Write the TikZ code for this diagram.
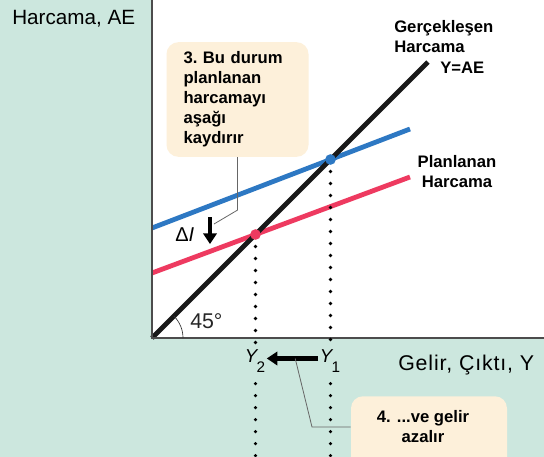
\documentclass[tikz,border=0pt]{standalone}
\usepackage{fontspec}
\setmainfont{Liberation Sans}
\usetikzlibrary{arrows.meta,calc}
\definecolor{aeMint}{HTML}{CCE7DE}
\definecolor{aeCream}{HTML}{FDF0DA}
\definecolor{aeBlue}{HTML}{2D78C3}
\definecolor{aeRed}{HTML}{EE3A60}
\newcommand\aeBig{\fontsize{15.5}{18}\selectfont}
\newcommand\aeMid{\fontsize{14}{16}\selectfont}
\newcommand\aeSub{\fontsize{11.5}{12}\selectfont}
\tikzset{
  aeLabel/.style={inner sep=0pt},
  aeText/.style={inner sep=0pt,font=\fontsize{12.5}{15}\selectfont\bfseries},
  aeNote/.style={rounded corners=9pt,fill=aeCream,draw=none},
  aeCurve/.style={line width=3.6pt},
  aeAxis/.style={draw=black!70,line width=.9pt},
  aeDots/.style={line width=2.7pt,line cap=round,dash pattern=on 0pt off 9pt},
  aeLead/.style={draw=black!60,line width=.6pt},
  aeArrow/.style={line width=3.2pt,-{Triangle[length=8pt,width=10pt]}},
}
\begin{document}
\begin{tikzpicture}[x=.75pt,y=-.75pt]
\clip (0,0) rectangle (544,457);
\fill[aeMint] (0,0) rectangle (544,457);
\fill[white] (152,0) rectangle (544,338);
% lines of the diagram
\coordinate (o) at (152,338);
\coordinate (e1) at (330.5,159.5);
\coordinate (e2) at (255.5,234.5);
\draw[aeCurve,aeRed] (152,273) -- (410,177);
\draw[aeCurve,aeBlue] (152,228) -- (410,129);
\draw[aeCurve,black!90] (o) -- (428,62);
\draw[aeAxis] (152,0) -- (o) -- (544,338);
\draw[black!80,line width=.5pt] ($(o)+(31,0)$) arc[start angle=0,end angle=45,radius=23.25pt];
\node[aeLabel,font=\fontsize{16}{18}\selectfont,text=black!85,anchor=base west] (ang) at (190,328) {45°};
% axis labels
\node[aeLabel,font=\aeBig,anchor=base west] (ylab) at (12,24) {Harcama, AE};
\node[aeLabel,font=\fontsize{16}{18}\selectfont,anchor=base west] (xlab) at (398,370) {\addfontfeature{LetterSpace=4}Gelir, Çıktı, Y};
\node[aeText,align=left,anchor=north west] (actual) at (394,20) {Gerçekleşen\\Harcama};
\node[aeText,anchor=west] (yae) at (440,68) {Y=AE};
\node[aeText,align=center] (planned) at (457,172) {Planlanan\\Harcama};
% income levels
\node[aeLabel,font=\aeMid,anchor=base] (y1) at (330,362) {\itshape Y\kern-.5pt\raisebox{-8pt}{\upshape\aeSub 1}};
\node[aeLabel,font=\aeMid,anchor=base] (y2) at (255,362) {\itshape Y\kern-.5pt\raisebox{-8pt}{\upshape\aeSub 2}};
\coordinate (b1) at (330.5,460);
\coordinate (b2) at (255.5,460);
\draw[aeDots] ([yshift=-9pt]e1) -- ([yshift=3pt]e1 |- y1.north);
\draw[aeDots] ([yshift=-8pt]e1 |- y1.south) -- (b1);
\draw[aeDots] ([yshift=-9pt]e2) -- ([yshift=3pt]e2 |- y2.north);
\draw[aeDots] ([yshift=-8pt]e2 |- y2.south) -- (b2);
\fill[aeBlue] (e1) circle[radius=4pt];
\fill[aeRed] (e2) circle[radius=4pt];
\draw[aeArrow] ([xshift=-1pt]y1.mid west) -- ([xshift=1pt]y2.mid east);
% inventory change
\node[aeLabel,font=\fontsize{15}{18}\selectfont,anchor=base west] (dI) at (175,241) {Δ\textit{I}};
\coordinate (dItop) at (210,217);
\coordinate (dItip) at (210,244);
\draw[aeArrow] (dItop) -- (dItip);
% notes
\node[aeNote,aeText,align=left,text width=81pt,minimum width=106.5pt,minimum height=86pt] (note3) at (237.5,99.5)
  {3.\ Bu durum\\planlanan\\harcamayı\\aşağı\\kaydırır};
\coordinate (k3) at (214,224);
\draw[aeLead] (note3.south) -- ++(0,53) -- (k3);
\node[aeNote,minimum width=117pt,minimum height=60pt,anchor=north] (note4) at (429,396) {};
\node[aeText,align=center] (note4txt) at (423,427) {4. ...ve gelir\\azalır};
\coordinate (k4) at (312,427);
\draw[aeLead] ($(y1.mid west)!.45!(y2.mid east)$) -- (k4) -- (note4.west |- k4);
\end{tikzpicture}
\end{document}
